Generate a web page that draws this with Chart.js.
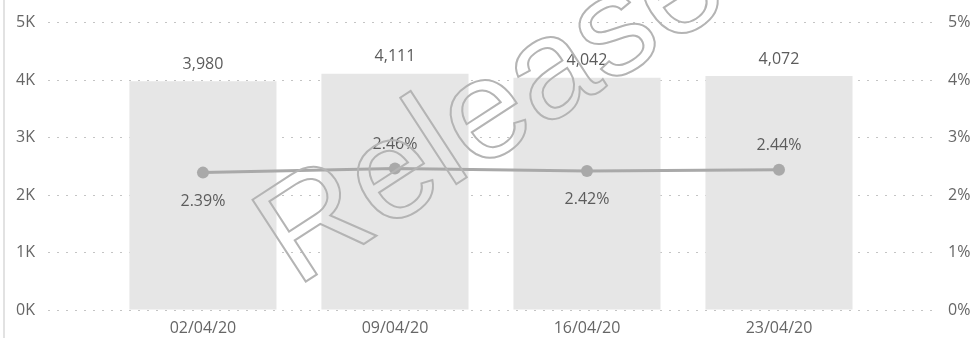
<!DOCTYPE html>
<html>
<head>
<meta charset="utf-8">
<script src="https://cdn.jsdelivr.net/npm/chart.js@4"></script>
<style>
  html, body { margin: 0; padding: 0; background: #fff; }
  #wrap { position: relative; width: 971px; height: 338px; }
  #edge { position: absolute; left: 3px; top: 0; width: 2px; height: 338px; background: #e2e2e2; }
</style>
</head>
<body>
<div id="wrap">
  <canvas id="myChart" width="971" height="338"></canvas>
  <div id="edge"></div>
</div>
<script>
// data
const weeks = ['02/04/20', '09/04/20', '16/04/20', '23/04/20']
const volume = [3980, 4111, 4042, 4072]
const rate = [2.39, 2.46, 2.42, 2.44]
const leftTicks = [0, 1000, 2000, 3000, 4000, 5000]
const rightTicks = [0, 1, 2, 3, 4, 5]

const textGrey = '#666666'
const labelFont = '16px "Open Sans"'

const ctx = document.querySelector('#myChart').getContext('2d')

// value labels on bars and line points
const valueLabels = {
  id: 'valueLabels',
  afterDatasetsDraw: (chart) => {
    const { ctx } = chart
    ctx.save()
    ctx.font = labelFont
    ctx.fillStyle = '#5c5c5c'
    ctx.textAlign = 'center'
    ctx.textBaseline = 'middle'

    chart.getDatasetMeta(0).data.forEach((bar, i) => {
      ctx.fillText(volume[i].toLocaleString('en-US'), bar.x, bar.y - 17)
    })

    chart.getDatasetMeta(1).data.forEach((pt, i) => {
      const below = i % 2 === 0
      ctx.fillText(rate[i].toFixed(2) + '%', pt.x, below ? pt.y + 29 : pt.y - 24)
    })
    ctx.restore()
  }
}

// outlined "Release" stamp over the chart
const stamp = {
  id: 'stamp',
  afterDraw: (chart) => {
    const { ctx } = chart
    ctx.save()
    ctx.translate(296, 288)
    ctx.rotate(-33 * Math.PI / 180)
    ctx.font = '142px "Liberation Sans"'
    ctx.textBaseline = 'alphabetic'
    ctx.lineWidth = 2
    ctx.strokeStyle = '#b4b4b4'
    ctx.strokeText('Release', 0, 0)
    ctx.restore()
  }
}

const data = {
  datasets: [{
    type: 'bar',
    label: 'Volume',
    data: volume.map((v, i) => ({ x: i, y: v })),
    backgroundColor: '#e6e6e6',
    categoryPercentage: 0.766,
    barPercentage: 1,
    yAxisID: 'y',
    order: 2
  },
  {
    type: 'line',
    label: 'Rate',
    data: rate.map((v, i) => ({ x: i, y: v })),
    borderColor: '#a9a9a9',
    backgroundColor: '#a9a9a9',
    borderWidth: 3,
    pointRadius: 6,
    pointBorderWidth: 0,
    yAxisID: 'y1',
    order: 1
  }]
}

const config = {
  type: 'bar',
  data: data,
  plugins: [valueLabels, stamp],
  options: {
    responsive: false,
    animation: false,
    layout: { padding: { top: 16, left: 0, right: 0, bottom: 0 } },
    plugins: {
      legend: { display: false },
      tooltip: { enabled: false }
    },
    scales: {
      x: {
        type: 'linear',
        offset: false,
        bounds: 'data',
        min: -0.807,
        max: 3.8125,
        grid: { display: false, drawTicks: false, offset: false },
        border: { display: false },
        afterBuildTicks: (scale) => {
          scale.ticks = weeks.map((w, i) => ({ value: i }))
        },
        afterFit: (scale) => { scale.height = 28 },
        ticks: {
          color: textGrey,
          font: { family: 'Open Sans', size: 16 },
          padding: 9,
          maxRotation: 0,
          autoSkip: false,
          callback: (value) => weeks[value]
        }
      },
      y: {
        position: 'left',
        min: 0,
        max: 5000,
        afterBuildTicks: (scale) => {
          scale.ticks = leftTicks.map(v => ({ value: v }))
        },
        afterFit: (scale) => { scale.width = 48 },
        grid: { color: '#c4c4c4', lineWidth: 1, drawTicks: false },
        border: { display: false, dash: [2, 7] },
        ticks: {
          color: textGrey,
          font: { family: 'Open Sans', size: 16 },
          padding: 13,
          callback: (value) => (value / 1000) + 'K'
        }
      },
      y1: {
        position: 'right',
        min: 0,
        max: 5,
        afterBuildTicks: (scale) => {
          scale.ticks = rightTicks.map(v => ({ value: v }))
        },
        afterFit: (scale) => { scale.width = 36 },
        grid: { display: false, drawTicks: false },
        border: { display: false },
        ticks: {
          color: textGrey,
          font: { family: 'Open Sans', size: 16 },
          padding: 13,
          callback: (value) => value + '%'
        }
      }
    }
  }
}

const myChart = new Chart(ctx, config)
</script>
</body>
</html>
